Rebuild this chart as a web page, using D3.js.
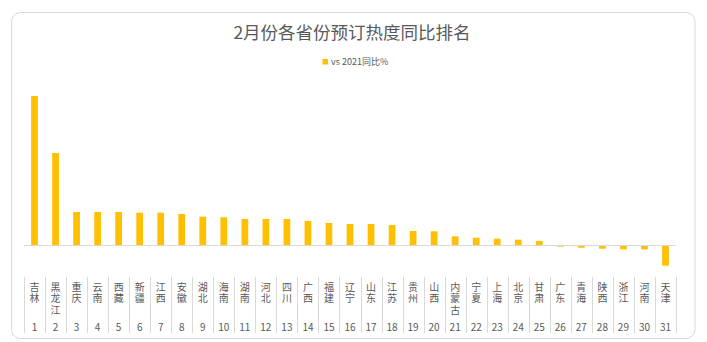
<!DOCTYPE html>
<html>
<head>
<meta charset="utf-8">
<script src="https://cdn.jsdelivr.net/npm/d3@7"></script>
<style>
  html, body { margin: 0; padding: 0; background: #fff; }
  svg { display: block; font-family: "Noto Sans CJK SC", "Noto Sans", sans-serif; }
</style>
</head>
<body>
<svg id="chart" width="707" height="342"></svg>
<script>
const title = "2月份各省份预订热度同比排名";
const seriesName = "vs 2021同比%";
const provinces = ["吉林","黑龙江","重庆","云南","西藏","新疆","江西","安徽","湖北","海南","湖南","河北","四川","广西","福建","辽宁","山东","江苏","贵州","山西","内蒙古","宁夏","上海","北京","甘肃","广东","青海","陕西","浙江","河南","天津"];
const ranks = ["1","2","3","4","5","6","7","8","9","10","11","12","13","14","15","16","17","18","19","20","21","22","23","24","25","26","27","28","29","30","31"];
const values = [149, 92, 33, 33, 33, 32.3, 32.3, 31, 28.3, 27.7, 26, 26, 26, 24, 22, 21, 21, 20, 14, 13.7, 8.7, 7.3, 6.3, 5.3, 4, -1.7, -2.7, -3.7, -4.3, -4.3, -20.7];

const svg = d3.select("#chart");
const color = "#FFC000";
const textColor = "#595959";

// border
svg.append("rect")
  .attr("x", 11.5).attr("y", 12.5)
  .attr("width", 683.5).attr("height", 326)
  .attr("rx", 9).attr("ry", 9)
  .attr("fill", "#fff").attr("stroke", "#d9d9d9").attr("stroke-width", 1);

// title
svg.append("text")
  .attr("x", 352).attr("y", 38.5)
  .attr("text-anchor", "middle")
  .attr("font-size", "17.5px")
  .attr("fill", textColor)
  .text(title);

// legend
svg.append("rect")
  .attr("x", 322.5).attr("y", 59)
  .attr("width", 5.5).attr("height", 5.5)
  .attr("fill", color);
svg.append("text")
  .attr("x", 331).attr("y", 65)
  .attr("font-size", "9px")
  .attr("fill", textColor)
  .text(seriesName);

const x = d3.scaleBand()
  .domain(d3.range(provinces.length))
  .range([24, 676])
  .paddingInner(0.68)
  .paddingOuter(0.34);

const y = d3.scaleLinear().domain([-30, 150]).range([275, 95]);

// bars
svg.append("g").selectAll("rect")
  .data(values)
  .join("rect")
  .attr("x", (d, i) => x(i))
  .attr("width", x.bandwidth())
  .attr("y", d => y(Math.max(0, d)))
  .attr("height", d => Math.abs(y(d) - y(0)))
  .attr("fill", color);

// zero axis line
svg.append("line")
  .attr("x1", 24).attr("x2", 676)
  .attr("y1", y(0) + 0.5).attr("y2", y(0) + 0.5)
  .attr("stroke", "#d9d9d9").attr("stroke-width", 1);

// category separators
const step = x.step();
const seps = d3.range(provinces.length + 1).map(i => 24 + i * step);
svg.append("g").selectAll("line")
  .data(seps)
  .join("line")
  .attr("x1", d => Math.round(d) + 0.5).attr("x2", d => Math.round(d) + 0.5)
  .attr("y1", 277).attr("y2", 333)
  .attr("stroke", "#d9d9d9").attr("stroke-width", 1);

// province labels (vertical text)
svg.append("g").selectAll("text")
  .data(provinces)
  .join("text")
  .attr("x", (d, i) => x(i) + x.bandwidth() / 2)
  .attr("y", 282)
  .attr("font-size", "10px")
  .attr("fill", textColor)
  .style("writing-mode", "vertical-rl")
  .style("text-orientation", "upright")
  .style("letter-spacing", "1.5px")
  .text(d => d);

// rank labels
svg.append("g").selectAll("text")
  .data(ranks)
  .join("text")
  .attr("x", (d, i) => x(i) + x.bandwidth() / 2)
  .attr("y", 330.5)
  .attr("font-size", "10px")
  .attr("fill", textColor)
  .attr("text-anchor", "middle")
  .text(d => d);
</script>
</body>
</html>
